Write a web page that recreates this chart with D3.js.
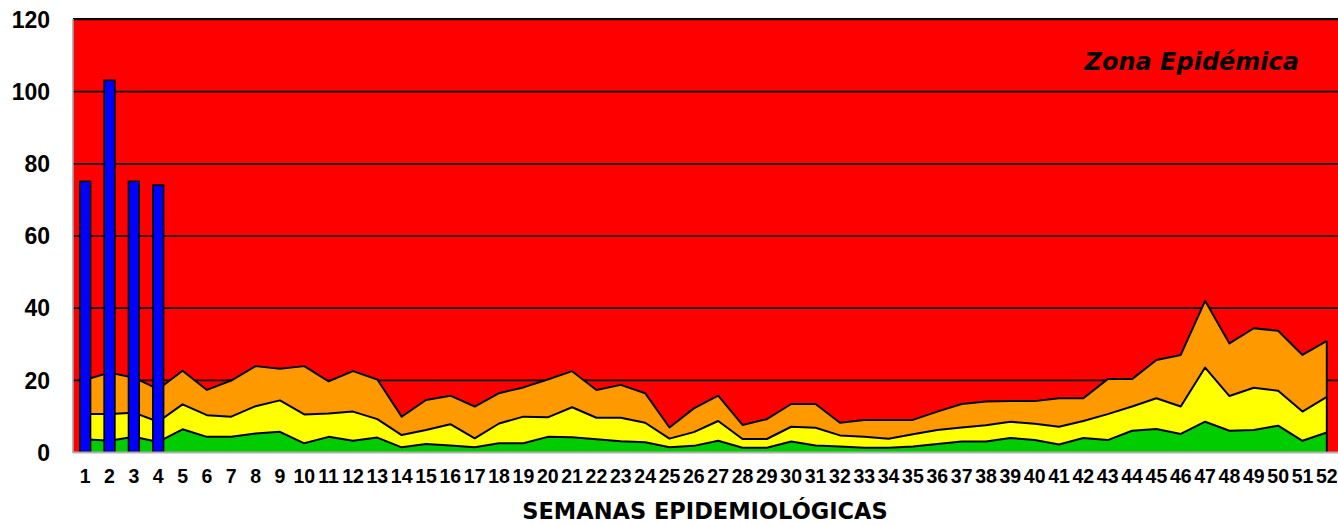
<!DOCTYPE html>
<html>
<head>
<meta charset="utf-8">
<script src="https://cdn.jsdelivr.net/npm/d3@7/dist/d3.min.js"></script>
<style>
  html, body { margin: 0; padding: 0; background: #fff; }
  svg { display: block; }
</style>
</head>
<body>
<svg id="chart" width="1338" height="525"></svg>
<script>
// ---- data ----
const semanas = [1,2,3,4,5,6,7,8,9,10,11,12,13,14,15,16,17,18,19,20,21,22,23,24,25,26,
                 27,28,29,30,31,32,33,34,35,36,37,38,39,40,41,42,43,44,45,46,47,48,49,50,51,52];
const yTicks = [0, 20, 40, 60, 80, 100, 120];
// observed cases (bars), weeks 1-4
const casosSemanas = [1, 2, 3, 4];
const casos = [75, 103, 75, 74];
// upper limit of each zone (green = éxito, yellow = seguridad, orange = alerta)
const exito = [3.5,3.1,4.2,2.8,6.3,4.2,4.2,5.1,5.6,2.4,4.2,3.1,4.0,1.3,2.2,1.8,1.3,2.4,2.4,4.2,
               4.1,3.5,3.0,2.7,1.3,1.7,3.1,1.2,1.2,2.9,1.8,1.5,1.2,1.2,1.5,2.2,2.9,2.9,3.9,3.3,
               2.1,3.9,3.3,5.9,6.4,5.0,8.4,5.9,6.1,7.3,3.1,5.4];
const seguridad = [10.5,10.5,10.9,8.4,13.2,10.2,9.8,12.7,14.3,10.4,10.7,11.2,9.1,4.7,6.1,7.7,3.8,7.9,9.8,9.6,
                   12.4,9.5,9.5,8.1,3.7,5.5,8.6,3.6,3.6,7.0,6.7,4.6,4.2,3.7,4.9,6.1,6.8,7.4,8.4,7.8,
                   7.0,8.6,10.5,12.6,14.9,12.6,23.4,15.5,17.8,17.0,11.2,15.3];
const alerta = [20,22,20.6,17.4,22.5,17.2,19.8,23.8,23.1,23.8,19.6,22.4,20.1,9.8,14.4,15.6,12.6,16.3,17.9,20.1,
                22.4,17.2,18.6,16.3,6.8,12.1,15.6,7.5,9.1,13.3,13.3,8.1,8.9,8.9,8.9,11.2,13.3,14.0,14.1,14.1,
                14.9,14.9,20.2,20.2,25.5,26.9,41.9,30.1,34.3,33.6,26.9,30.8];

(function () {
// ---- layout ----
const svg = d3.select("#chart");
const pL = 73, pR = 1339, pT = 19, pB = 452;

const x = d3.scaleBand().domain(semanas).range([pL, pR]).padding(0);
const bw = x.bandwidth();
const cx = w => x(w) + bw / 2;
const y = d3.scaleLinear().domain([0, 120]).range([pB, pT]);

// plot background: epidemic zone
svg.append("rect")
  .attr("x", pL).attr("y", pT)
  .attr("width", pR - pL).attr("height", pB - pT)
  .attr("fill", "#ff0000");

// grid lines
const grid = d3.axisLeft(y).tickValues(yTicks.filter(v => v > 0))
  .tickSize(-(pR - pL)).tickFormat("");
svg.append("g").attr("transform", `translate(${pL},0)`).call(grid)
  .call(g => g.select(".domain").remove())
  .call(g => g.selectAll("line").attr("stroke", "#000").attr("stroke-width", 1.6));

// stacked zones
const rows = semanas.map((w, i) => ({ w, g: exito[i], s: seguridad[i], a: alerta[i] }));
const zones = [
  { lo: d => 0,   hi: d => d.g, fill: "#00cc00" },
  { lo: d => d.g, hi: d => d.s, fill: "#ffff00" },
  { lo: d => d.s, hi: d => d.a, fill: "#ff9900" }
];
zones.forEach(z => {
  const area = d3.area().x(d => cx(d.w)).y0(d => y(z.lo(d))).y1(d => y(z.hi(d)));
  svg.append("path").datum(rows).attr("d", area).attr("fill", z.fill);
});
// outlines of the zones
zones.forEach(z => {
  const line = d3.line().x(d => cx(d.w)).y(d => y(z.hi(d)));
  svg.append("path").datum(rows).attr("d", line)
    .attr("fill", "none").attr("stroke", "#000").attr("stroke-width", 2)
    .attr("stroke-linejoin", "round");
});
// right edge of the zones
const last = rows[rows.length - 1];
svg.append("line")
  .attr("x1", cx(last.w)).attr("x2", cx(last.w))
  .attr("y1", y(last.a)).attr("y2", y(0))
  .attr("stroke", "#000").attr("stroke-width", 2);

// bars
svg.append("g").selectAll("rect").data(casosSemanas.map((w, i) => ({ w, v: casos[i] })))
  .join("rect")
  .attr("x", d => x(d.w) + bw * 0.28)
  .attr("width", bw * 0.44)
  .attr("y", d => y(d.v))
  .attr("height", d => y(0) - y(d.v))
  .attr("fill", "#0000ff").attr("stroke", "#000").attr("stroke-width", 1.6);

// top border
svg.append("line").attr("x1", pL).attr("x2", pR).attr("y1", y(120)).attr("y2", y(120))
  .attr("stroke", "#000").attr("stroke-width", 2);

// axes lines (grey)
svg.append("line").attr("x1", pL).attr("x2", pL).attr("y1", pT).attr("y2", pB + 1)
  .attr("stroke", "#a6a6a6").attr("stroke-width", 1.6);
svg.append("line").attr("x1", pL).attr("x2", pR).attr("y1", pB + 0.5).attr("y2", pB + 0.5)
  .attr("stroke", "#b0b0b0").attr("stroke-width", 2);

// y tick labels
const yAxis = d3.axisLeft(y).tickValues(yTicks).tickSize(0).tickPadding(0);
svg.append("g").attr("transform", `translate(50,0)`).call(yAxis)
  .call(g => g.select(".domain").remove())
  .call(g => g.selectAll("text")
    .attr("font-family", "'Liberation Sans', Arial, sans-serif")
    .attr("font-weight", "bold").attr("font-size", 23).attr("fill", "#000")
    .attr("dy", "0.36em"));

// x tick labels
const xAxis = d3.axisBottom(x).tickSize(0).tickPadding(0);
svg.append("g").attr("transform", `translate(0,${pB})`).call(xAxis)
  .call(g => g.select(".domain").remove())
  .call(g => g.selectAll("text")
    .attr("y", 31).attr("dy", 0)
    .attr("font-family", "'Liberation Sans', Arial, sans-serif")
    .attr("font-weight", "bold").attr("font-size", 19.5).attr("fill", "#000"));

// axis title
svg.append("text")
  .attr("x", 705).attr("y", 519)
  .attr("text-anchor", "middle")
  .attr("font-family", "'DejaVu Sans', sans-serif")
  .attr("font-weight", "bold").attr("font-size", 22.5).attr("fill", "#000")
  .text("SEMANAS EPIDEMIOLÓGICAS");

// zone label
svg.append("text")
  .attr("x", 1299).attr("y", 70)
  .attr("text-anchor", "end")
  .attr("font-family", "'DejaVu Sans', sans-serif")
  .attr("font-weight", "bold").attr("font-style", "italic")
  .attr("font-size", 24).attr("fill", "#000")
  .text("Zona Epidémica");
})();
</script>
</body>
</html>
